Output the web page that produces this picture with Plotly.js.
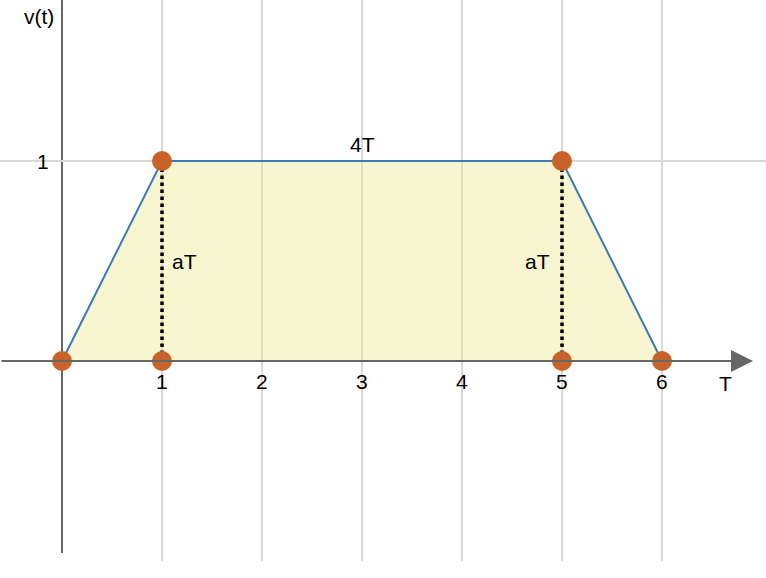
<!DOCTYPE html>
<html>
<head>
<meta charset="utf-8">
<script src="https://cdn.plot.ly/plotly-3.0.1.min.js"></script>
<style>html,body{margin:0;padding:0;background:#fff}#chart{width:766px;height:578px}</style>
</head>
<body>
<div id="chart"></div>
<script>
// Trapezoid outline (T units, v(t))
const shapeX = [0, 1, 5, 6, 0];
const shapeY = [0, 1, 1, 0, 0];
// Marked points
const pointX = [0, 1, 1, 5, 5, 6];
const pointY = [0, 0, 1, 1, 0, 0];
// Dotted verticals
const dropX = [1, 5];
const dropTop = [1, 1];
// Tick labels
const xTicks = [1, 2, 3, 4, 5, 6];
const xTickText = ['1', '2', '3', '4', '5', '6'];
const yTicks = [1];
const yTickText = ['1'];
// Text labels
const labelText = ['4T', 'aT', 'aT'];
const labelX = [3, 1, 5];
const labelY = [1, 0.5, 0.5];

const FONT = 'Liberation Sans, Arial, sans-serif';
const FS = 21;
const AXIS = '#666666';

const traces = [
  {x: shapeX, y: shapeY, mode: 'lines', fill: 'toself',
   fillcolor: 'rgba(238,230,140,0.4)', line: {color: '#3a7ab8', width: 2},
   hoverinfo: 'skip', showlegend: false}
];
dropX.forEach((xv, i) => {
  traces.push({x: [xv, xv], y: [0, dropTop[i]], mode: 'lines',
    line: {color: '#000', width: 3.5, dash: 'dot'}, showlegend: false});
});
traces.push({x: pointX, y: pointY, mode: 'markers',
  marker: {color: '#c8642a', size: 20}, showlegend: false});

const annotations = [];
xTicks.forEach((v, i) => annotations.push({x: v, y: 0, xref: 'x', yref: 'y',
  text: xTickText[i], showarrow: false, yshift: -20, font: {size: FS, color: '#000', family: FONT}}));
yTicks.forEach((v, i) => annotations.push({x: 0, y: v, xref: 'x', yref: 'y',
  text: yTickText[i], showarrow: false, xanchor: 'right', xshift: -11, font: {size: FS, color: '#000', family: FONT}}));
// labels
annotations.push({x: labelX[0], y: labelY[0], text: labelText[0], showarrow: false,
  yanchor: 'bottom', yshift: 3, font: {size: FS, color: '#000', family: FONT}});
annotations.push({x: labelX[1], y: labelY[1], text: labelText[1], showarrow: false,
  xanchor: 'left', xshift: 8, font: {size: FS, color: '#000', family: FONT}});
annotations.push({x: labelX[2], y: labelY[2], text: labelText[2], showarrow: false,
  xanchor: 'right', xshift: -10, font: {size: FS, color: '#000', family: FONT}});
// axis titles
annotations.push({x: 0, y: 1, xref: 'x', yref: 'paper', text: 'v(t)', showarrow: false,
  xanchor: 'right', yanchor: 'top', xshift: -6, yshift: -3, font: {size: FS, color: '#000', family: FONT}});
annotations.push({x: 6.63, y: 0, xref: 'x', yref: 'y', text: 'T', showarrow: false,
  yshift: -22, font: {size: FS, color: '#000', family: FONT}});
// x-axis arrow
annotations.push({x: 6.91, y: 0, ax: -0.62, ay: 0, xref: 'x', yref: 'y', axref: 'x', ayref: 'y',
  text: '', showarrow: true, arrowhead: 2, arrowsize: 2.2, arrowwidth: 2, arrowcolor: AXIS});

const layout = {
  width: 766, height: 578,
  margin: {l: 0, r: 0, t: 0, b: 17},
  paper_bgcolor: '#fff', plot_bgcolor: '#fff',
  showlegend: false,
  xaxis: {range: [-0.62, 7.04], tickvals: xTicks, showticklabels: false, showgrid: true,
    gridcolor: '#d9d9d9', gridwidth: 1.5, zeroline: false, showline: false, fixedrange: true},
  yaxis: {range: [-1.0, 1.805], tickvals: yTicks, showticklabels: false, showgrid: true,
    gridcolor: '#d9d9d9', gridwidth: 1.5, zeroline: false, showline: false, fixedrange: true},
  shapes: [
    {type: 'line', xref: 'x', yref: 'y', x0: 0, x1: 0, y0: -0.96, y1: 1.805,
     line: {color: AXIS, width: 2}, layer: 'below'}
  ],
  annotations: annotations
};
Plotly.newPlot('chart', traces, layout, {displayModeBar: false, staticPlot: true});
</script>
</body>
</html>
